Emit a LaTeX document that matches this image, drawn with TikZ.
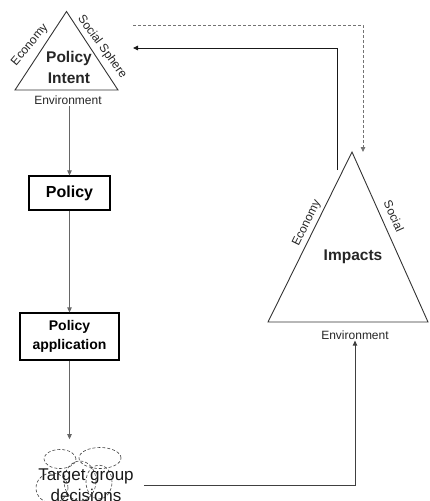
\documentclass[tikz,border=0pt]{standalone}
\usepackage{fontspec}
\setmainfont{Liberation Sans}
\usetikzlibrary{calc,shapes.geometric,arrows,arrows.meta}

\tikzset{
	tri/.style={draw=black!80,line width=0.9pt},
	box/.style={draw=black,line width=1.1pt,font=\bfseries},
	big/.style={font=\bfseries\fontsize{15.5}{21}\selectfont,text=black!85,align=center},
	side/.style={font=\fontsize{12}{14}\selectfont,text=black!85,inner sep=1pt},
	puff/.style={ellipse,draw=black!75,densely dashed,line width=0.6pt,inner sep=0pt},
	flow/.style={->,>={Triangle[length=5pt,width=4.5pt]},draw=black!60,line width=0.8pt},
	feed/.style={->,>={Triangle[length=5pt,width=4.5pt]},draw=black!90,line width=0.9pt},
	feeddash/.style={->,>={Triangle[length=5pt,width=4.5pt]},draw=black!55,line width=0.8pt,dash pattern=on 3pt off 2pt}
}

\begin{document}
\begin{tikzpicture}[x=1pt,y=-1pt]
	\useasboundingbox (0,0) rectangle (429,501);

	%triangles
	\coordinate (intentTop) at (66.5,11.5);
	\coordinate (intentL)   at (15,90);
	\coordinate (intentR)   at (118,90);
	\draw[tri] (intentTop) -- (intentL) -- (intentR) -- cycle;
	%
	\coordinate (impTop) at (352,152);
	\coordinate (impL)   at (268,322);
	\coordinate (impR)   at (428,322);
	\draw[tri] (impTop) -- (impL) -- (impR) -- cycle;

	%triangle labels
	\node[big] (intent) at (69,67) {Policy\\Intent};
	\node[side] (intentEnv) at (68,100) {Environment};
	\node[side,rotate=50]  (intentEco) at (30,45) {Economy};
	\node[side,rotate=-54] (intentSoc) at (102,47) {Social Sphere};
	%
	\node[big] (impacts) at (353,257) {Impacts};
	\node[side] (impEnv) at (355,335) {Environment};
	\node[side,rotate=64]  (impEco) at (307,223) {Economy};
	\node[side,rotate=-66] (impSoc) at (394,216) {Social};

	%boxes
	\node[box,minimum width=81pt,minimum height=34pt,font=\bfseries\fontsize{16}{19}\selectfont] (policy) at (69.5,193) {Policy};
	\node[box,minimum width=99pt,minimum height=47pt,align=center,font=\bfseries\fontsize{14}{19}\selectfont] (appl) at (69.5,336.5) {Policy\\application};

	%cloud
	\node[puff,minimum width=32pt,minimum height=19pt] (puffA) at (60,459) {};
	\node[puff,minimum width=42pt,minimum height=21pt] (puffB) at (100,458) {};
	\node[puff,minimum width=32pt,minimum height=30pt] (puffC) at (52,488) {};
	\node[puff,minimum width=32pt,minimum height=40pt] (puffD) at (80,481) {};
	\node[puff,minimum width=26pt,minimum height=34pt] (puffE) at (99,482) {};
	\node[font=\fontsize{17}{21}\selectfont,text=black!90,align=center,inner xsep=10pt] (target) at (86,485) {Target group\\decisions};

	%flow arrows
	\draw[flow] (intentEnv.south -| policy) -- (policy);
	\draw[flow] (policy) -- (appl);
	\draw[flow,shorten >=10pt] (appl) -- (appl |- puffA.north);
	\draw[flow,draw=black!75] (target.east) -| (impEnv);

	%feedback
	\coordinate (impFb)      at (337,170);
	\coordinate (intentFb)   at (133,48);
	\coordinate (intentDash) at (133,25);
	\coordinate (impDash)    at (363,152);
	\draw[feed] (impFb) |- (intentFb);
	\draw[feeddash] (intentDash) -| (impDash);
\end{tikzpicture}
\end{document}
